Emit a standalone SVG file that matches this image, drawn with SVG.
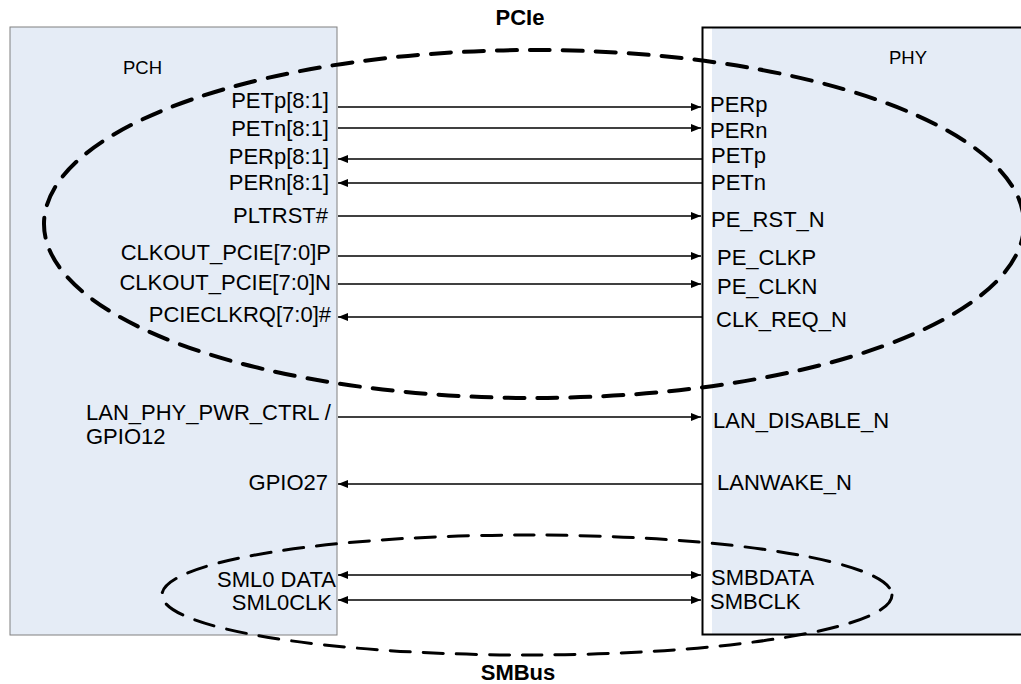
<svg xmlns="http://www.w3.org/2000/svg" width="1021" height="684" viewBox="0 0 1021 684">
<defs>
<style>
.lbl{font-family:"Liberation Sans",Arial,sans-serif;font-size:22px;fill:#000}
.r{text-anchor:end}
.ttl{font-family:"Liberation Sans",Arial,sans-serif;font-size:22px;font-weight:bold;text-anchor:middle;fill:#000}
.name{font-family:"Liberation Sans",Arial,sans-serif;font-size:18.5px;fill:#000}
.w{stroke:#000;stroke-width:1.6;fill:none}
.grp{fill:none;stroke:#000;stroke-linecap:round}
</style>
<marker id="ah" viewBox="0 0 10 8" refX="10" refY="4" markerWidth="11" markerHeight="8" markerUnits="userSpaceOnUse" orient="auto-start-reverse">
<path d="M0,0 L10,4 L0,8 z" fill="#000"/>
</marker>
</defs>
<rect width="1021" height="684" fill="#fff"/>
<g id="pch">
<rect x="10" y="27" width="327" height="608" fill="#e5ecf6" stroke="#808080" stroke-width="1"/>
<text class="name" x="123" y="74">PCH</text>
</g>
<g id="phy">
<rect x="712" y="27" width="320" height="608" fill="#e5ecf6"/>
<rect x="702.5" y="27.5" width="330" height="607" fill="none" stroke="#000" stroke-width="2"/>
<text class="name" x="889" y="64">PHY</text>
</g>
<g id="pcie-group">
<ellipse class="grp" cx="534" cy="224" rx="490" ry="174" stroke-width="4" stroke-dasharray="20 13"/>
<text class="ttl" x="520" y="25">PCIe</text>
</g>
<g id="smbus-group">
<ellipse class="grp" cx="527" cy="595" rx="365" ry="60" stroke-width="3" stroke-dasharray="20 13"/>
<text class="ttl" x="518" y="680">SMBus</text>
</g>
<g id="connectors">
<line class="w" x1="338" y1="107" x2="701" y2="107" marker-end="url(#ah)"/>
<line class="w" x1="338" y1="128" x2="701" y2="128" marker-end="url(#ah)"/>
<line class="w" x1="338" y1="159" x2="702" y2="159" marker-start="url(#ah)"/>
<line class="w" x1="338" y1="183" x2="702" y2="183" marker-start="url(#ah)"/>
<line class="w" x1="338" y1="216" x2="701" y2="216" marker-end="url(#ah)"/>
<line class="w" x1="338" y1="256" x2="701" y2="256" marker-end="url(#ah)"/>
<line class="w" x1="338" y1="284" x2="701" y2="284" marker-end="url(#ah)"/>
<line class="w" x1="338" y1="317" x2="702" y2="317" marker-start="url(#ah)"/>
<line class="w" x1="338" y1="417" x2="701" y2="417" marker-end="url(#ah)"/>
<line class="w" x1="338" y1="484" x2="702" y2="484" marker-start="url(#ah)"/>
<line class="w" x1="338" y1="575" x2="701" y2="575" marker-start="url(#ah)" marker-end="url(#ah)"/>
<line class="w" x1="338" y1="600" x2="701" y2="600" marker-start="url(#ah)" marker-end="url(#ah)"/>
</g>
<g id="pch-pins">
<text class="lbl r" x="329" y="108">PETp[8:1]</text>
<text class="lbl r" x="329" y="136">PETn[8:1]</text>
<text class="lbl r" x="329" y="164">PERp[8:1]</text>
<text class="lbl r" x="329" y="190">PERn[8:1]</text>
<text class="lbl r" x="328" y="223">PLTRST#</text>
<text class="lbl r" x="331" y="260">CLKOUT_PCIE[7:0]P</text>
<text class="lbl r" x="331" y="290">CLKOUT_PCIE[7:0]N</text>
<text class="lbl r" x="331" y="322">PCIECLKRQ[7:0]#</text>
<text class="lbl" x="86" y="420">LAN_PHY_PWR_CTRL /</text>
<text class="lbl" x="86" y="444">GPIO12</text>
<text class="lbl r" x="328" y="490">GPIO27</text>
<text class="lbl r" x="336" y="587">SML0 DATA</text>
<text class="lbl r" x="332" y="610">SML0CLK</text>
</g>
<g id="phy-pins">
<text class="lbl" x="710" y="112">PERp</text>
<text class="lbl" x="710" y="138">PERn</text>
<text class="lbl" x="711" y="163">PETp</text>
<text class="lbl" x="711" y="190">PETn</text>
<text class="lbl" x="711" y="227">PE_RST_N</text>
<text class="lbl" x="717" y="265">PE_CLKP</text>
<text class="lbl" x="717" y="294">PE_CLKN</text>
<text class="lbl" x="716" y="327">CLK_REQ_N</text>
<text class="lbl" x="713" y="428">LAN_DISABLE_N</text>
<text class="lbl" x="717" y="490">LANWAKE_N</text>
<text class="lbl" x="711" y="585">SMBDATA</text>
<text class="lbl" x="710" y="609">SMBCLK</text>
</g>
</svg>
